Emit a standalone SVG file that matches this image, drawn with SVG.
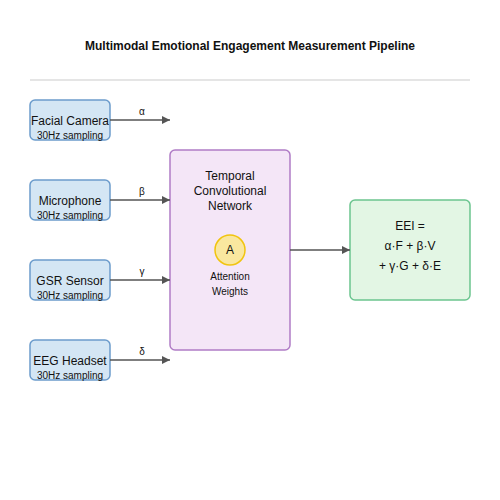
<svg xmlns="http://www.w3.org/2000/svg" width="500" height="500" viewBox="0 0 500 500">
<defs>
<marker id="arr" markerWidth="8" markerHeight="8" refX="8" refY="4" orient="auto" markerUnits="userSpaceOnUse">
<path d="M0,0 L8,4 L0,8 Z" fill="#555"/>
</marker>
<style>
text{font-family:"Liberation Sans",Arial,sans-serif;fill:#111;text-anchor:middle}
.in{fill:#d4e6f4;stroke:#6c9ccc;stroke-width:1.5}
.lbl{font-size:12px}
.sub{font-size:10px}
.gr{font-size:10px}
.conn{stroke:#555;stroke-width:1.5;fill:none;marker-end:url(#arr)}
</style>
</defs>
<rect width="500" height="500" fill="#fff"/>
<text x="250" y="50" style="font-size:12px;font-weight:bold">Multimodal Emotional Engagement Measurement Pipeline</text>
<line x1="30" y1="80" x2="470" y2="80" stroke="#ddd" stroke-width="1.5"/>
<g id="facial"><rect class="in" x="30" y="100" width="80" height="40" rx="5"/><text class="lbl" x="70" y="125">Facial Camera</text><text class="sub" x="70" y="139">30Hz sampling</text></g>
<g id="mic"><rect class="in" x="30" y="180" width="80" height="40" rx="5"/><text class="lbl" x="70" y="205">Microphone</text><text class="sub" x="70" y="219">30Hz sampling</text></g>
<g id="gsr"><rect class="in" x="30" y="260" width="80" height="40" rx="5"/><text class="lbl" x="70" y="285">GSR Sensor</text><text class="sub" x="70" y="299">30Hz sampling</text></g>
<g id="eeg"><rect class="in" x="30" y="340" width="80" height="40" rx="5"/><text class="lbl" x="70" y="365">EEG Headset</text><text class="sub" x="70" y="379">30Hz sampling</text></g>
<g id="tcn"><rect x="170" y="150" width="120" height="200" rx="5" fill="#f4e6f7" stroke="#b07cc6" stroke-width="1.5"/>
<text class="lbl" x="230" y="180">Temporal</text><text class="lbl" x="230" y="195">Convolutional</text><text class="lbl" x="230" y="210">Network</text>
<circle cx="230" cy="250" r="15" fill="#f9e79f" stroke="#f1c40f" stroke-width="1.5"/>
<text class="lbl" x="230" y="254">A</text>
<text class="sub" x="230" y="280">Attention</text><text class="sub" x="230" y="295">Weights</text></g>
<g id="eei"><rect x="350" y="200" width="120" height="100" rx="5" fill="#e3f6e4" stroke="#6cc58f" stroke-width="1.5"/>
<text class="lbl" x="410" y="230">EEI =</text><text class="lbl" x="410" y="250">α·F + β·V</text><text class="lbl" x="410" y="270">+ γ·G + δ·E</text></g>
<g id="connectors">
<line class="conn" x1="110" y1="120" x2="170" y2="120"/>
<line class="conn" x1="110" y1="200" x2="170" y2="200"/>
<line class="conn" x1="110" y1="280" x2="170" y2="280"/>
<line class="conn" x1="110" y1="360" x2="170" y2="360"/>
<line class="conn" x1="290" y1="250" x2="350" y2="250"/>
<text class="gr" x="142" y="115">α</text>
<text class="gr" x="142" y="195">β</text>
<text class="gr" x="142" y="275">γ</text>
<text class="gr" x="142" y="355">δ</text>
</g>
</svg>
